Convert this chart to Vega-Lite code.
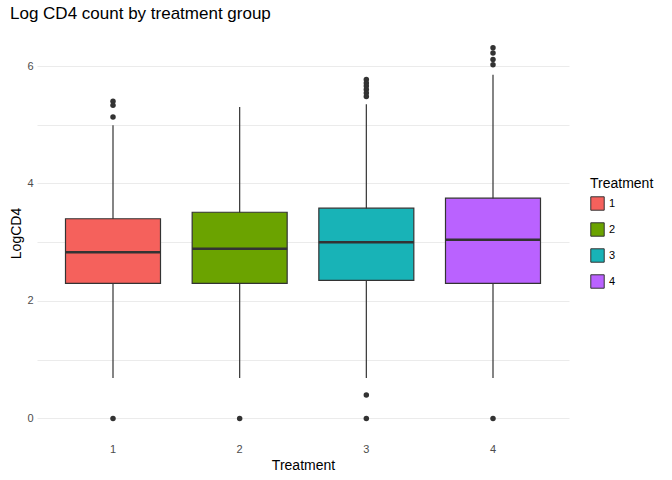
{
  "$schema": "https://vega.github.io/schema/vega-lite/v6.json",
  "width": 532,
  "height": 408,
  "autosize": "none",
  "padding": {"left": 37, "top": 29, "right": 103, "bottom": 43},
  "background": "white",
  "config": {
    "view": {"stroke": null},
    "font": "Liberation Sans",
    "axis": {"domain": false, "ticks": false, "gridColor": "#EBEBEB", "labelColor": "#4D4D4D", "labelFontSize": 11, "titleFontSize": 14, "titleFontWeight": "normal", "titleColor": "black"}
  },
  "title": {"text": "Log CD4 count by treatment group", "anchor": "start", "frame": "group", "dx": -27, "offset": 6, "fontSize": 17, "fontWeight": "normal"},
  "datasets": {
    "stats": [
      {"Treatment": "1", "lo": 0.69, "q1": 2.30, "median": 2.83, "q3": 3.40, "hi": 4.99},
      {"Treatment": "2", "lo": 0.69, "q1": 2.30, "median": 2.89, "q3": 3.51, "hi": 5.30},
      {"Treatment": "3", "lo": 0.69, "q1": 2.35, "median": 3.00, "q3": 3.58, "hi": 5.35},
      {"Treatment": "4", "lo": 0.69, "q1": 2.30, "median": 3.04, "q3": 3.75, "hi": 5.85}
    ],
    "outliers": [
      {"Treatment": "1", "LogCD4": 5.40}, {"Treatment": "1", "LogCD4": 5.33}, {"Treatment": "1", "LogCD4": 5.13}, {"Treatment": "1", "LogCD4": 0},
      {"Treatment": "2", "LogCD4": 0},
      {"Treatment": "3", "LogCD4": 5.77}, {"Treatment": "3", "LogCD4": 5.71}, {"Treatment": "3", "LogCD4": 5.66}, {"Treatment": "3", "LogCD4": 5.60},
      {"Treatment": "3", "LogCD4": 5.54}, {"Treatment": "3", "LogCD4": 5.48}, {"Treatment": "3", "LogCD4": 0.40}, {"Treatment": "3", "LogCD4": 0},
      {"Treatment": "4", "LogCD4": 6.31}, {"Treatment": "4", "LogCD4": 6.22}, {"Treatment": "4", "LogCD4": 6.11}, {"Treatment": "4", "LogCD4": 6.02}, {"Treatment": "4", "LogCD4": 0}
    ]
  },
  "encoding": {
    "x": {
      "field": "Treatment", "type": "nominal", "title": "Treatment",
      "scale": {"type": "band", "paddingInner": 0.25, "paddingOuter": 0.225},
      "axis": {"labelAngle": 0, "bandPosition": 0.5, "labelPadding": 6, "titlePadding": 4}
    }
  },
  "layer": [
    {
      "data": {"name": "stats"},
      "mark": {"type": "rule", "color": "#333333", "strokeWidth": 1.2},
      "encoding": {
        "y": {"field": "lo", "type": "quantitative", "title": "LogCD4",
          "scale": {"domain": [-0.316, 6.63], "nice": false},
          "axis": {"values": [0, 1, 2, 3, 4, 5, 6], "format": "d", "labelExpr": "datum.value % 2 == 0 ? datum.label : ''", "labelPadding": 4, "titlePadding": 3}},
        "y2": {"field": "hi"}
      }
    },
    {
      "data": {"name": "stats"},
      "mark": {"type": "bar", "stroke": "#333333", "strokeWidth": 1.2},
      "encoding": {
        "y": {"field": "q1", "type": "quantitative"},
        "y2": {"field": "q3"},
        "color": {"field": "Treatment", "type": "nominal",
          "scale": {"range": ["#F5615C", "#6BA300", "#18B3B7", "#BA62FF"]},
          "legend": {"title": "Treatment", "orient": "none", "legendX": 553, "legendY": 148, "symbolType": "square", "symbolSize": 180, "symbolStrokeColor": "#333333", "symbolStrokeWidth": 1, "titleFontSize": 14, "titleFontWeight": "normal", "labelFontSize": 11, "rowPadding": 7, "symbolOpacity": 1}}
      }
    },
    {
      "data": {"name": "stats"},
      "mark": {"type": "tick", "color": "#333333", "thickness": 2.5, "size": 95, "opacity": 1},
      "encoding": {"y": {"field": "median", "type": "quantitative"}}
    },
    {
      "data": {"name": "outliers"},
      "mark": {"type": "circle", "color": "#333333", "size": 30, "opacity": 1},
      "encoding": {"y": {"field": "LogCD4", "type": "quantitative"}}
    }
  ]
}
